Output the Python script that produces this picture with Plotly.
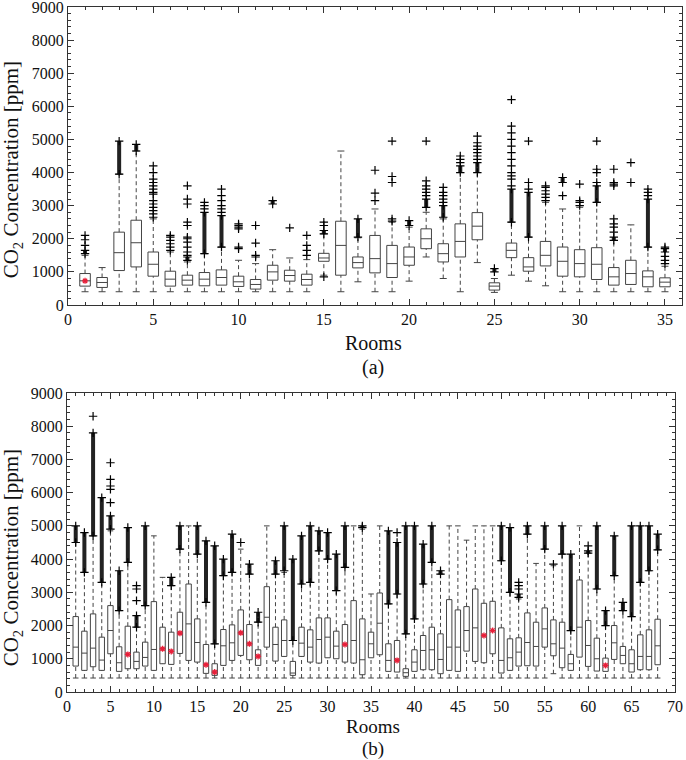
import plotly.graph_objects as go

# ---------------- Panel (a): 35 rooms ----------------
rooms_a = list(range(1, 36))
a_q1 = [570, 530, 1040, 1150, 870, 570, 600, 580, 600, 560, 480, 750, 720, 600, 1320, 900, 1120, 970, 830, 1200,
        1700, 1300, 1450, 1970, 450, 1430, 1020, 1180, 870, 850, 770, 600, 620, 550, 550]
a_med = [730, 680, 1580, 1880, 1230, 780, 750, 780, 830, 700, 620, 1000, 890, 770, 1420, 1800, 1280, 1400, 1250, 1450,
         2000, 1550, 1920, 2380, 570, 1650, 1150, 1500, 1320, 1250, 1230, 850, 950, 850, 690]
a_q3 = [950, 830, 2200, 2560, 1600, 1020, 900, 980, 1060, 870, 770, 1200, 1050, 930, 1560, 2530, 1450, 2100, 1800, 1750,
        2300, 1850, 2450, 2790, 670, 1870, 1430, 1920, 1750, 1670, 1730, 1130, 1350, 1030, 820]
a_lw = [400, 400, 400, 400, 400, 400, 400, 400, 400, 400, 400, 400, 400, 400, 900, 400, 700, 400, 400, 720,
        1450, 800, 400, 1280, 380, 900, 720, 580, 400, 400, 400, 400, 400, 400, 400]
a_uw = [1500, 1130, 3950, 4650, 2600, 1600, 1300, 1550, 1750, 1350, 1250, 1670, 1420, 1370, 2150, 4650, 2030, 2900, 2500, 2350,
        2800, 2600, 4000, 4000, 800, 2500, 2050, 3100, 2900, 2950, 3100, 1950, 2420, 1750, 1170]
# dense outlier clusters (room, low, high)
a_dense_room = [1, 3, 4, 7, 8, 9, 12, 15, 17, 20, 21, 22, 23, 24, 25, 26, 27, 29, 31, 32, 34, 35]
a_dense_lo = [1550, 3950, 4650, 1350, 1550, 1750, 3050, 2150, 2050, 2400, 2950, 2650, 4000, 4000, 1000, 2500, 2050, 3700, 3100, 1950, 1750, 1600]
a_dense_hi = [1650, 4950, 4850, 1450, 2800, 2700, 3150, 2250, 2600, 2550, 3200, 3000, 4200, 4300, 1100, 3500, 3400, 3850, 3600, 2050, 3200, 1700]
# individual outliers
a_out_room = ([1] * 3 + [5] * 14 + [6] * 6 + [7] * 11 + [8] * 3 + [9] * 6 + [10] * 6 + [11] * 4 + [13] + [14] * 4 +
              [15] * 3 + [18] * 3 + [19] * 5 + [21] * 6 + [22] * 5 + [23] * 3 + [24] * 7 + [26] * 12 + [27] * 3 +
              [28] * 6 + [29] + [30] * 4 + [31] * 4 + [32] * 8 + [33] * 2 + [34] * 3 + [35] * 4)
a_out_val = ([1800, 1970, 2100] +
             [2650, 2750, 2850, 2950, 3050, 3150, 3350, 3400, 3500, 3600, 3700, 3800, 4000, 4200] +
             [1650, 1750, 1850, 1950, 2050, 2100] +
             [1500, 1600, 1750, 1900, 2000, 2050, 2400, 2500, 3050, 3200, 3600] +
             [2900, 3000, 3100] +
             [2800, 2900, 3000, 3150, 3300, 3500] +
             [1700, 1750, 2300, 2350, 2400, 2450] +
             [1450, 1500, 1870, 2400] +
             [2330] +
             [1500, 1650, 1800, 2100] +
             [850, 2400, 2500] +
             [3150, 3380, 4070] +
             [2530, 2600, 3700, 3880, 4950] +
             [3300, 3400, 3500, 3600, 3750, 4950] +
             [3100, 3200, 3300, 3400, 3550] +
             [4300, 4400, 4500] +
             [4400, 4500, 4600, 4700, 4800, 4900, 5100] +
             [3600, 3800, 3900, 4000, 4200, 4400, 4600, 4800, 5000, 5200, 5400, 6200] +
             [3500, 3700, 4950] +
             [3150, 3250, 3350, 3450, 3550, 3600] +
             [3300] +
             [3000, 3100, 3150, 3650] +
             [3700, 4000, 4100, 4950] +
             [2200, 2350, 2450, 2600, 3600, 3650, 3700, 4100] +
             [3700, 4300] +
             [3300, 3400, 3500] +
             [1250, 1350, 1470, 1750])
a_red_room = [1]
a_red_val = [730]

# ---------------- Panel (b): 68 rooms ----------------
rooms_b = list(range(1, 69))
b_q1 = [780, 650, 760, 650, 1150, 620, 700, 700, 780, 650, 850, 830, 1160, 950, 900, 560, 500, 800, 950, 1100,
        970, 800, 1350, 930, 1070, 500, 1070, 900, 870, 1030, 1000, 900, 870, 520, 1030, 1120, 620, 600, 470, 620,
        670, 670, 550, 650, 620, 1230, 920, 880, 1150, 570, 650, 780, 790, 780, 1350, 1090, 730, 650, 1050, 770,
        630, 620, 980, 850, 600, 670, 670, 820]
b_med = [1350, 1170, 1320, 960, 1850, 880, 1130, 920, 1040, 1280, 1300, 1220, 1770, 2050, 1490, 820, 600, 1390, 1480, 1780,
         1450, 1070, 2250, 1430, 1550, 570, 1470, 1350, 1580, 1650, 1380, 1430, 1550, 970, 1450, 2070, 950, 950, 580, 900,
         1250, 1270, 980, 1350, 1350, 1850, 1930, 1700, 1850, 950, 1030, 1200, 1490, 1370, 1900, 1450, 1320, 850, 1950, 1400,
         1000, 800, 1480, 1100, 850, 1070, 1070, 1390]
b_q3 = [2270, 1830, 2350, 1650, 2600, 1360, 1980, 1200, 1500, 2720, 1950, 1800, 2400, 3250, 2200, 1430, 850, 1880, 2020, 2470,
        2030, 1270, 3170, 1950, 2170, 920, 1950, 1870, 2230, 2230, 1830, 2030, 2750, 2200, 1800, 2980, 1450, 1550, 700, 1270,
        1700, 1950, 1750, 2780, 2470, 2570, 3100, 2670, 2730, 1930, 1600, 1630, 2380, 2100, 2530, 2170, 2100, 1130, 3370, 2150,
        1620, 1020, 2000, 1370, 1270, 1720, 1870, 2190]
b_lw = [420] * 55 + [550] + [420] * 12
b_uw = [4500, 3600, 4700, 3300, 4850, 2450, 3900, 1950, 2600, 4700, 3450, 3200, 4300, 5000, 4150, 2700, 1450, 3500, 3600, 4300,
        3550, 2100, 5000, 3550, 3600, 1550, 3250, 3300, 4250, 4000, 3050, 3750, 5000, 4900, 2950, 5000, 2650, 2950, 1750, 2200,
        3250, 3900, 3550, 5000, 5000, 4570, 5000, 5000, 5000, 3950, 3000, 2800, 4750, 3870, 4300, 3800, 4150, 1850, 5000, 4180,
        3100, 2000, 3500, 2450, 2270, 3300, 3650, 4280]
b_dense_room = [1, 2, 3, 4, 5, 6, 7, 8, 9, 12, 13, 15, 16, 17, 18, 19, 21, 22, 24, 25, 26, 27, 28, 29, 30, 31, 32, 34,
                37, 38, 39, 40, 41, 42, 43, 50, 51, 52, 53, 55, 57, 58, 60, 61, 62, 63, 64, 65, 66, 67, 68]
b_dense_lo = [4500, 3600, 4700, 3300, 4900, 2450, 3900, 1950, 2600, 3200, 4300, 4150, 2700, 1450, 3500, 3600, 3550, 2100, 3550, 3650,
              1550, 3250, 3300, 4250, 4000, 3050, 3750, 4950, 2650, 2950, 1750, 2200, 3250, 3900, 3550, 3950, 3000, 2850, 4750, 4300,
              4150, 1850, 4180, 3100, 2000, 3500, 2450, 2270, 3300, 3650, 4280]
b_dense_hi = [5000, 4800, 7800, 5850, 5300, 3650, 4950, 2300, 5000, 3450, 5000, 5000, 4550, 4400, 4000, 4750, 3850, 2400, 3950, 5000,
              4000, 4700, 5000, 4850, 4800, 4150, 5000, 5000, 4850, 4500, 5000, 5000, 4450, 5000, 3650, 5000, 4950, 2950, 5000, 5000,
              5000, 4150, 4250, 5000, 2450, 4700, 2700, 5000, 5000, 5000, 4750]
b_out_room = [3, 5, 5, 5, 5, 5, 8, 8, 8, 20, 38, 52, 52, 52, 56, 60]
b_out_val = [8300, 5700, 6100, 6200, 6400, 6900, 2750, 3100, 3200, 4500, 4800, 3100, 3200, 3300, 3850, 4400]
b_red_room = [7, 11, 12, 13, 16, 17, 20, 21, 22, 32, 38, 48, 49, 62]
b_red_val = [1130, 1300, 1220, 1770, 820, 600, 1780, 1450, 1070, 1430, 950, 1700, 1850, 800]

FONT = "Liberation Serif, Times New Roman, DejaVu Serif, serif"
LINE = "#333333"
BOXLINE = "#444444"

fig = go.Figure()


def add_panel(rooms, q1, med, q3, lw, uw, d_room, d_lo, d_hi, o_room, o_val, r_room, r_val, xa, ya, cap):
    # dashed whiskers
    wx, wy = [], []
    for r, a, b, lo, hi in zip(rooms, q1, q3, lw, uw):
        wx += [r, r, None, r, r, None]
        wy += [b, hi, None, lo, a, None]
    fig.add_trace(go.Scatter(x=wx, y=wy, mode="lines", xaxis=xa, yaxis=ya,
                             line=dict(color=BOXLINE, width=1, dash="4px,3px"), hoverinfo="skip", showlegend=False))
    # caps
    fig.add_trace(go.Scatter(x=rooms + rooms, y=uw + lw, mode="markers", xaxis=xa, yaxis=ya,
                             marker=dict(symbol="line-ew", size=cap, line=dict(color=BOXLINE, width=1)),
                             hoverinfo="skip", showlegend=False))
    # dense outlier clusters
    dx, dy = [], []
    for r, lo, hi in zip(d_room, d_lo, d_hi):
        dx += [r, r, None]
        dy += [lo, hi, None]
    fig.add_trace(go.Scatter(x=dx, y=dy, mode="lines", xaxis=xa, yaxis=ya,
                             line=dict(color="#222222", width=4), hoverinfo="skip", showlegend=False))
    fig.add_trace(go.Scatter(x=d_room + d_room, y=d_lo + d_hi, mode="markers", xaxis=xa, yaxis=ya,
                             marker=dict(symbol="cross-thin", size=6, line=dict(color="black", width=1.2)),
                             hoverinfo="skip", showlegend=False))
    # individual outliers
    fig.add_trace(go.Scatter(x=o_room, y=o_val, mode="markers", xaxis=xa, yaxis=ya,
                             marker=dict(symbol="cross-thin", size=6, line=dict(color="black", width=1.2)),
                             hoverinfo="skip", showlegend=False))
    # boxes
    fig.add_trace(go.Box(x=rooms, q1=q1, median=med, q3=q3, lowerfence=q1, upperfence=q3,
                         xaxis=xa, yaxis=ya, width=0.62, whiskerwidth=0, boxpoints=False,
                         line=dict(color=BOXLINE, width=1), fillcolor="rgba(255,255,255,0)",
                         hoverinfo="skip", showlegend=False))
    # red markers
    fig.add_trace(go.Scatter(x=r_room, y=r_val, mode="markers", xaxis=xa, yaxis=ya,
                             marker=dict(symbol="asterisk", size=5, line=dict(color="#e8203a", width=1.3)),
                             hoverinfo="skip", showlegend=False))


add_panel(rooms_a, a_q1, a_med, a_q3, a_lw, a_uw, a_dense_room, a_dense_lo, a_dense_hi,
          a_out_room, a_out_val, a_red_room, a_red_val, "x", "y", 5)
add_panel(rooms_b, b_q1, b_med, b_q3, b_lw, b_uw, b_dense_room, b_dense_lo, b_dense_hi,
          b_out_room, b_out_val, b_red_room, b_red_val, "x2", "y2", 4)

ax_common = dict(showline=True, linecolor=LINE, linewidth=1, mirror="allticks", ticks="inside",
                 ticklen=6, tickcolor=LINE, showgrid=False, zeroline=False, automargin=False,
                 ticklabeloverflow="allow",
                 tickfont=dict(family=FONT, size=16, color="#111"))

fig.update_layout(
    template="none",
    width=686, height=760,
    margin=dict(l=0, r=0, t=0, b=0, autoexpand=False),
    font=dict(family=FONT, color="#111"),
    paper_bgcolor="white", plot_bgcolor="white",
    xaxis=dict(domain=[0.0991, 0.9942], range=[0, 36], dtick=5, tick0=0, anchor="y",
               minor=dict(dtick=1, ticks="inside", ticklen=3, tickcolor=LINE), **ax_common),
    yaxis=dict(domain=[0.5987, 0.9908], range=[0, 9000], dtick=1000, tick0=0, anchor="x",
               minor=dict(dtick=200, ticks="inside", ticklen=3, tickcolor=LINE), **ax_common),
    xaxis2=dict(domain=[0.0977, 0.984], range=[0, 70], dtick=5, tick0=0, anchor="y2",
                minor=dict(dtick=1, ticks="inside", ticklen=3, tickcolor=LINE), **ax_common),
    yaxis2=dict(domain=[0.0895, 0.4829], range=[0, 9000], dtick=1000, tick0=0, anchor="x2",
                minor=dict(dtick=200, ticks="inside", ticklen=3, tickcolor=LINE), **ax_common),
)

xfont = dict(family=FONT, size=20, color="#111")
bfont = dict(family=FONT, size=19, color="#111")
yfont = dict(family=FONT, size=21, color="#111")
ann = [
    dict(text="Rooms", x=0.544, y=0.5487, font=xfont),
    dict(text="(a)", x=0.544, y=0.5158, font=xfont),
    dict(text="Rooms", x=0.544, y=0.0447, font=bfont),
    dict(text="(b)", x=0.544, y=0.0148, font=bfont),
    dict(text="CO<sub>2</sub> Concentration [ppm]", x=0.018, y=0.7763, textangle=-90, font=yfont),
    dict(text="CO<sub>2</sub> Concentration [ppm]", x=0.018, y=0.2658, textangle=-90, font=yfont),
]
for a in ann:
    fig.add_annotation(xref="paper", yref="paper", showarrow=False, xanchor="center", yanchor="middle", **a)

# remove the browser's default 8px page margin so the figure sits at the window's corner
fig.write_html("out.html", config={"displayModeBar": False},
               post_script="document.body.style.margin='0px';")
